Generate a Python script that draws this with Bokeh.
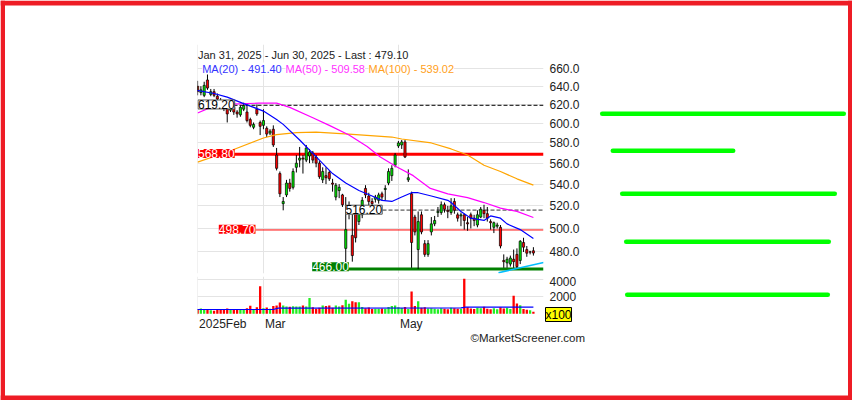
import math
from bokeh.plotting import figure
from bokeh.models import Range1d, FixedTicker, NumeralTickFormatter, Label, ColumnDataSource, GridBox
from bokeh.layouts import column
from bokeh.embed import file_html
from bokeh.resources import INLINE

FONT = "Liberation Sans"

# ---------------- data ----------------
# trading-day index 0 = Jan 31 2025 ... 103 = Jun 30 2025
opens = [636, 640, 633, 630, 647, 631, 634, 629, 624, 619,
         617, 614, 617, 612, 609, 615, 612, 604, 596, 615,
         601, 598, 595, 590, 594, 568, 550, 522, 530, 541,
         537, 556, 563, 565, 563, 567, 570, 566, 560, 544,
         548, 551, 541, 528, 534, 530, 483, 514, 494, 515,
         506, 512, 536, 529, 524, 526, 525, 531, 535, 541,
         548, 558, 577, 578, 581, 544, 531, 510, 482, 512,
         487, 478, 497, 504, 514, 514, 521, 516, 514, 524,
         512, 511, 512, 505, 512, 509, 503, 510, 516, 513,
         506, 501, 502, 501, 473, 471, 470, 474, 478, 473,
         488, 482, 480, 481]
highs = [643, 646, 640, 645, 654, 637, 637, 632, 627, 622,
         619, 621, 620, 614, 619, 622, 621, 606, 601, 620,
         603, 615, 597, 594, 598, 575, 552, 528, 544, 545,
         555, 568, 576, 568, 578, 574, 572, 568, 562, 556,
         556, 553, 545, 541, 540, 531, 528, 524, 516, 518,
         518, 528, 539, 532, 527, 530, 532, 533, 539, 555,
         558, 570, 582, 583, 583, 554, 533, 512, 515, 515,
         490, 490, 510, 511, 519, 524, 523, 520, 527, 527,
         514, 514, 513, 510, 514, 512, 516, 519, 521, 519,
         508, 506, 505, 503, 478, 476, 477, 482, 483, 490,
         492, 485, 481, 484]
lows = [632, 630, 630, 628, 636, 629, 628, 622, 616, 613,
        601, 612, 609, 606, 607, 613, 601, 596, 594, 608,
        588, 594, 586, 588, 576, 553, 528, 516, 528, 533,
        535, 551, 556, 550, 561, 560, 560, 556, 545, 541,
        540, 543, 533, 525, 527, 519, 466, 508, 472, 488,
        503, 509, 527, 520, 517, 523, 522, 525, 525, 539,
        543, 556, 575, 574, 565, 542, 467, 494, 466, 495,
        476, 476, 494, 502, 510, 512, 514, 509, 512, 513,
        506, 502, 499, 498, 500, 502, 501, 509, 509, 506,
        499, 496, 500, 483, 467, 467, 468, 467, 466, 470,
        480, 476, 478, 477]
closes = [640, 634, 636, 641, 638, 634, 630, 626, 620, 617,
          610, 618, 612, 610, 617, 619, 603, 598, 599, 610,
          597, 603, 589, 592, 578, 555, 531, 524, 541, 536,
          552, 560, 565, 564, 575, 571, 563, 560, 547, 552,
          546, 545, 540, 539, 537, 521, 499, 519, 477, 492,
          513, 525, 530, 524, 522, 528, 530, 528, 536, 552,
          555, 568, 580, 581, 566, 546, 488, 497, 506, 497,
          478, 487, 504, 507, 515, 521, 517, 515, 520, 516,
          509, 512, 507, 504, 509, 507, 512, 517, 513, 509,
          505, 505, 503, 485, 472, 474, 475, 472, 468, 489,
          484, 479, 480, 479.10]
volumes = [420, 520, 610, 480, 560, 400, 360, 520, 470, 500,
           620, 430, 480, 450, 520, 540, 640, 940, 560, 770,
           3200, 650, 740, 600, 900, 960, 1330, 970, 860, 820,
           880, 860, 840, 970, 860, 1850, 770, 580, 700, 970,
           900, 970, 700, 970, 860, 1000, 1650, 1160, 1450, 1350,
           1350, 780, 650, 720, 560, 600, 580, 620, 590, 800,
           900, 970, 760, 680, 800, 560, 2600, 900, 1450, 700,
           760, 620, 640, 580, 520, 660, 600, 540, 700, 640,
           600, 580, 4100, 760, 620, 560, 700, 640, 820, 600,
           540, 660, 520, 760, 620, 700, 560, 2100, 1200, 1000,
           560, 480, 420, 250]

ma20_idx = [0, 6, 10, 15, 21, 25, 27, 32, 38, 42, 46, 50, 54, 57, 60, 63, 66, 68, 72, 77, 78, 81, 84, 88, 90, 93, 95, 99, 103]
ma20_val = [636, 632, 628, 621, 613, 604, 599, 583, 563, 550, 541, 534, 529, 525, 524, 528, 532, 532, 529, 525, 523, 515, 509, 507, 511, 509, 504, 499, 491.40]
ma50_idx = [1, 5, 11, 19.5, 25, 29, 36, 41, 47, 52.5, 56.5, 61.7, 66.5, 71.7, 77, 83, 88, 93, 98, 103]
ma50_val = [611, 617, 620.5, 621.5, 621.5, 617, 606, 598, 588, 576.5, 566, 556, 548, 536, 531, 527.5, 523, 518, 515, 509.58]
ma100_idx = [1, 10, 21, 25, 31, 37, 47, 60, 63, 72, 78, 83, 88, 93, 98, 103]
ma100_val = [561, 571, 585, 588.5, 590.5, 591, 589, 586, 584, 580, 574, 568, 558, 552, 545, 539.02]
vol_ma_idx = [0, 24, 25.5, 81, 82.5, 103]
vol_ma_val = [500, 500, 660, 700, 770, 770]
trend_idx = [92.4, 106.1]
trend_val = [463, 471.3]

levels = [619.20, 568.80, 516.20, 498.70, 466.00]
price_ticks = [480, 500, 520, 540, 560, 580, 600, 620, 640, 660]
vol_ticks = [2000, 4000]
month_idx = [1, 21, 62]
month_labels = ["2025Feb", "Mar", "May"]

# handwritten green strokes at the right (page pixels)
note_x0 = [601.7, 612.3, 621.7, 625.7, 626.7]
note_x1 = [843.3, 732.7, 834.3, 828.3, 827.3]
note_y = [113.3, 150.3, 193.3, 241.3, 294.3]

# ---------------- geometry (page px) ----------------
PAGE_W, PAGE_H = 852, 400
FR_L, FR_R = 197, 543
X_START, X_END = 0.97, 106.07
PR_T, PR_B = 44, 273
P_TOP, P_BOT = 688.1, 462.4
VR_T, VR_B = 276, 315
V_TOP, V_BOT = 4350, -200
PANEL_W = 600


def idx_from_px(x):
    return X_START + (x - FR_L) * (X_END - X_START) / (FR_R - FR_L)


def price_from_px(y):
    return math.exp(math.log(P_TOP) - (y - PR_T) / (PR_B - PR_T) * (math.log(P_TOP) - math.log(P_BOT)))


def px_from_price(v):
    return PR_T + (math.log(P_TOP) - math.log(v)) / (math.log(P_TOP) - math.log(P_BOT)) * (PR_B - PR_T)


PX_PER_IDX = (FR_R - FR_L) / (X_END - X_START)

GRID = "#e4e4e4"
UP = "#00e600"
DOWN = "#ff0000"
RED_FRAME = "#ee1c25"

# ---------------- price panel ----------------
p = figure(width=PANEL_W, height=VR_T, x_range=Range1d(X_START, X_END), y_range=Range1d(P_BOT, P_TOP),
           y_axis_type="log", y_axis_location="right", x_axis_location=None,
           toolbar_location=None, output_backend="svg",
           min_border_left=FR_L, min_border_right=PANEL_W - FR_R, min_border_top=PR_T,
           min_border_bottom=VR_T - PR_B)
p.outline_line_color = None
p.yaxis.ticker = FixedTicker(ticks=price_ticks)
p.yaxis.formatter = NumeralTickFormatter(format="0.0")
p.yaxis.axis_line_color = None
p.yaxis.major_tick_line_color = None
p.yaxis.minor_tick_line_color = None
p.yaxis.major_tick_out = 0
p.yaxis.major_tick_in = 0
p.yaxis.major_label_standoff = 6
p.yaxis.major_label_text_font = FONT
p.yaxis.major_label_text_font_size = "12px"
p.yaxis.major_label_text_color = "#222222"
p.ygrid.grid_line_color = GRID
p.xgrid.ticker = FixedTicker(ticks=month_idx)
p.xgrid.grid_line_color = GRID

n = len(closes)
idx = list(range(n))
cols = [UP if c >= o else DOWN for o, c in zip(opens, closes)]
src = ColumnDataSource(dict(x=idx, h=highs, l=lows,
                            top=[max(o, c) for o, c in zip(opens, closes)],
                            bot=[min(o, c) for o, c in zip(opens, closes)],
                            col=cols))

lvl_label_px = [197.5, 197.5, 345, 218.3, 311.7]
lvl_label_dy = [0.8, 0.8, 0.4, 0.6, 2.2]
lvl_line_from_px = [233, 233, 382, 255, 348.3]
lvl_color = ["black", "#ff0000", "#333333", "#ff0000", "#008000"]
lvl_width = [1, 3, 1, 1, 3]
lvl_dash = ["4 2", "solid", "4 2", "solid", "solid"]
lvl_box_fill = ["white", "#ff0000", "white", "#ff0000", "#008000"]
lvl_box_line = ["#555555", None, "#555555", None, None]
lvl_text_col = ["black", "white", "black", "white", "white"]
for k, lv in enumerate(levels):
    p.segment(x0=[idx_from_px(lvl_line_from_px[k])], y0=[lv], x1=[X_END], y1=[lv],
              line_color=lvl_color[k], line_width=lvl_width[k], line_dash=lvl_dash[k])

p.segment(x0="x", y0="h", x1="x", y1="l", source=src, line_color="black", line_width=1)
p.vbar(x="x", width=0.65, top="top", bottom="bot", fill_color="col", line_color="black",
       line_width=0.7, source=src)

p.line(ma100_idx, ma100_val, line_color="#ffa500", line_width=1.2)
p.line(ma50_idx, ma50_val, line_color="#ff00ff", line_width=1.2)
p.line(ma20_idx, ma20_val, line_color="#0000ff", line_width=1.2)
p.line(trend_idx, trend_val, line_color="#00bfff", line_width=1.5)

for k, lv in enumerate(levels):
    p.add_layout(Label(x=idx_from_px(lvl_label_px[k]), y=price_from_px(px_from_price(lv) - lvl_label_dy[k]),
                       text=f"{lv:.2f}", text_align="left", text_baseline="middle",
                       text_font=FONT, text_font_size="12px", text_color=lvl_text_col[k],
                       background_fill_color=lvl_box_fill[k], border_line_color=lvl_box_line[k]))

p.add_layout(Label(x=idx_from_px(197.5), y=price_from_px(54),
                   text=f"Jan 31, 2025 - Jun 30, 2025 - Last : {closes[-1]:.2f}",
                   text_align="left", text_baseline="middle", text_font=FONT,
                   text_font_size="11px", text_color="#222222"))
legend_px = [201.7, 285, 368]
legend_items = [("MA(20)", ma20_val[-1], "#3333ff"), ("MA(50)", ma50_val[-1], "#ff33ff"),
                ("MA(100)", ma100_val[-1], "#ffa020")]
for k, (name, val, colr) in enumerate(legend_items):
    p.add_layout(Label(x=idx_from_px(legend_px[k]), y=price_ticks[-1], text=f"{name} - {val:.2f}",
                       text_align="left", text_baseline="middle", text_font=FONT,
                       text_font_size="11px", text_color=colr, background_fill_color="white"))

# ---------------- volume panel ----------------
v = figure(width=PANEL_W, height=PAGE_H - VR_T, x_range=p.x_range, y_range=Range1d(V_BOT, V_TOP),
           y_axis_location="right", toolbar_location=None, output_backend="svg",
           min_border_left=FR_L, min_border_right=PANEL_W - FR_R, min_border_top=0,
           min_border_bottom=PAGE_H - VR_B)
v.outline_line_color = None
v.yaxis.ticker = FixedTicker(ticks=vol_ticks)
v.yaxis.formatter = NumeralTickFormatter(format="0")
for ax in (v.yaxis, v.xaxis):
    ax.axis_line_color = None
    ax.major_tick_line_color = None
    ax.minor_tick_line_color = None
    ax.major_tick_out = 0
    ax.major_tick_in = 0
    ax.major_label_text_font = FONT
    ax.major_label_text_font_size = "12px"
    ax.major_label_text_color = "#222222"
v.yaxis.major_label_standoff = 6
label_w_px = [47.4, 20.7, 22.7]
centers = [round(m + (1.5 + w / 2) / PX_PER_IDX, 3) for m, w in zip(month_idx, label_w_px)]
v.xaxis.ticker = FixedTicker(ticks=centers)
v.xaxis.major_label_overrides = {c: t for c, t in zip(centers, month_labels)}
v.xaxis.major_label_standoff = 1
v.xgrid.ticker = FixedTicker(ticks=month_idx)
v.xgrid.grid_line_color = GRID
v.ygrid.grid_line_color = GRID

v.vbar(x=idx, width=0.7, top=volumes, bottom=0,
       fill_color=[("#22ee22" if c == UP else DOWN) for c in cols], line_color=None)
v.line(vol_ma_idx, vol_ma_val, line_color="#0000ff", line_width=1.2)

# ---------------- transparent overlay (page pixel space) ----------------
o = figure(width=PAGE_W, height=PAGE_H, x_range=Range1d(0, PAGE_W), y_range=Range1d(PAGE_H, 0),
           x_axis_type=None, y_axis_type=None, toolbar_location=None, output_backend="svg",
           min_border=0)
o.outline_line_color = None
o.background_fill_color = None
o.border_fill_color = None
o.grid.visible = False
# red frame around the picture
o.quad(left=[0, 0, PAGE_W - 4.5, 0], right=[4.5, PAGE_W, PAGE_W, PAGE_W],
       top=[0, 0, 0, PAGE_H - 5], bottom=[PAGE_H, 5, PAGE_H, PAGE_H],
       fill_color=RED_FRAME, line_color=None)
o.segment(x0=note_x0, y0=note_y, x1=note_x1, y1=note_y, line_color="#00ff00", line_width=4.5,
          line_cap="round")
o.add_layout(Label(x=545, y=314, text="x100", text_align="left", text_baseline="middle",
                   text_font=FONT, text_font_size="12px", text_color="black",
                   background_fill_color="#ffff00", border_line_color="black"))
o.add_layout(Label(x=470, y=337, text="\u00a9MarketScreener.com", text_align="left",
                   text_baseline="middle", text_font=FONT, text_font_size="11.5px",
                   text_color="#222222"))

main = column(p, v)
page = GridBox(children=[(main, 0, 0), (o, 0, 0)])
open("out.html", "w").write(file_html(page, INLINE))
